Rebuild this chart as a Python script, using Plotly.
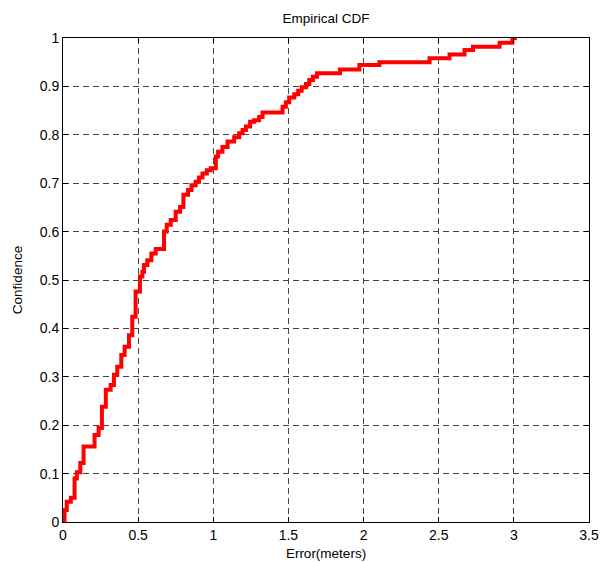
import plotly.graph_objects as go

# Empirical CDF of positioning error: step locations (meters) and the
# cumulative fraction reached after each step.
error_steps = [
    0.0, 0.01, 0.025, 0.052, 0.077, 0.092, 0.115, 0.137, 0.21, 0.237,
    0.259, 0.285, 0.317, 0.339, 0.361, 0.388, 0.41, 0.439, 0.461, 0.483,
    0.512, 0.528, 0.539, 0.561, 0.588, 0.617, 0.672, 0.69, 0.717, 0.75,
    0.779, 0.801, 0.832, 0.855, 0.883, 0.905, 0.928, 0.957, 0.983, 1.017,
    1.032, 1.061, 1.095, 1.139, 1.172, 1.195, 1.217, 1.245, 1.272, 1.305,
    1.328, 1.461, 1.483, 1.505, 1.539, 1.565, 1.588, 1.617, 1.639, 1.663,
    1.69, 1.843, 1.972, 2.105, 2.439, 2.572, 2.672, 2.728, 2.905, 2.99,
    3.02,
]
confidence = [
    0.0, 0.025, 0.042, 0.05, 0.09, 0.103, 0.122, 0.156, 0.18, 0.194,
    0.238, 0.273, 0.283, 0.304, 0.321, 0.345, 0.362, 0.386, 0.424, 0.476,
    0.507, 0.517, 0.531, 0.541, 0.555, 0.564, 0.6, 0.614, 0.624, 0.641,
    0.651, 0.676, 0.686, 0.696, 0.703, 0.712, 0.72, 0.727, 0.731, 0.755,
    0.765, 0.775, 0.786, 0.795, 0.803, 0.81, 0.817, 0.827, 0.83, 0.837,
    0.846, 0.858, 0.867, 0.877, 0.884, 0.891, 0.898, 0.905, 0.913, 0.92,
    0.927, 0.935, 0.944, 0.95, 0.958, 0.966, 0.975, 0.982, 0.99, 1.0,
    1.0,
]

x_ticks = [0, 0.5, 1, 1.5, 2, 2.5, 3, 3.5]
y_ticks = [0, 0.1, 0.2, 0.3, 0.4, 0.5, 0.6, 0.7, 0.8, 0.9, 1]

FONT = "Liberation Sans, Arial, sans-serif"

fig = go.Figure(
    go.Scatter(
        x=error_steps,
        y=confidence,
        mode="lines",
        line=dict(color="#ff0000", width=4, shape="hv"),
        hoverinfo="x+y",
    )
)

axis_common = dict(
    showline=True,
    linecolor="black",
    linewidth=1,
    mirror="ticks",
    ticks="inside",
    ticklen=5,
    tickcolor="black",
    showgrid=True,
    gridcolor="#444444",
    gridwidth=1,
    griddash="6px,4px",
    zeroline=False,
    tickfont=dict(family=FONT, size=14, color="black"),
)

fig.update_xaxes(
    range=[0, 3.5],
    tickvals=x_ticks,
    ticktext=[f"{v:g}" for v in x_ticks],
    title=dict(text="Error(meters)", font=dict(family=FONT, size=13.5, color="black"), standoff=6),
    **axis_common,
)
fig.update_yaxes(
    range=[0, 1],
    tickvals=y_ticks,
    ticktext=[f"{v:g}" for v in y_ticks],
    title=dict(text="Confidence", font=dict(family=FONT, size=13.5, color="black"), standoff=14),
    **axis_common,
)

fig.update_layout(
    width=601,
    height=562,
    margin=dict(l=63, r=12, t=38, b=40, autoexpand=False),
    paper_bgcolor="white",
    plot_bgcolor="white",
    showlegend=False,
    title=dict(
        text="Empirical CDF",
        x=0.5,
        xref="paper",
        y=1 - 18 / 562,
        yref="container",
        xanchor="center",
        yanchor="middle",
        font=dict(family=FONT, size=13.5, color="black"),
    ),
)

fig.write_html("out.html")
